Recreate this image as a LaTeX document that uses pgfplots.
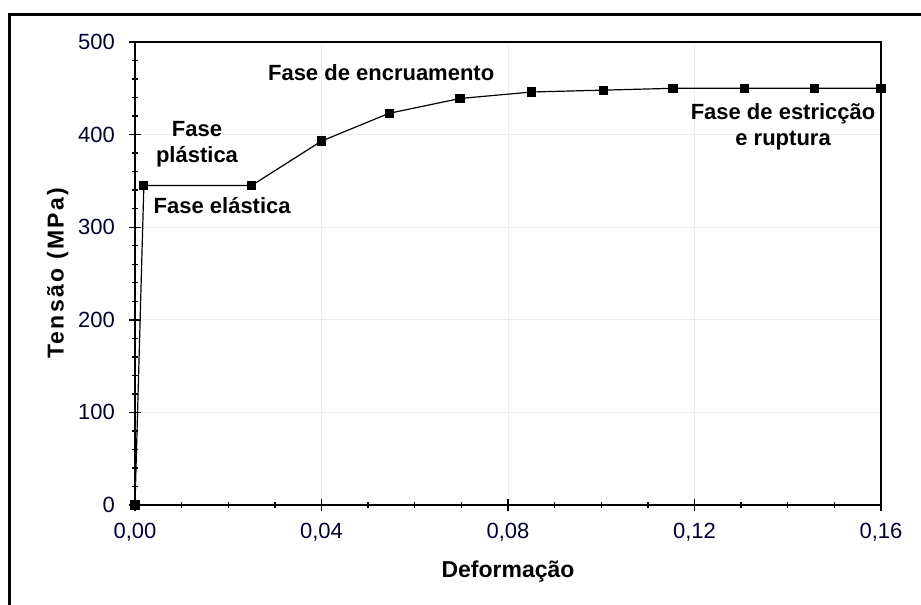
\documentclass[border=0pt]{standalone}
\usepackage{fontspec}
\setmainfont{Liberation Sans}
\usepackage{pgfplots}
\pgfplotsset{compat=1.18}
\begin{document}
\begin{tikzpicture}[x=1pt,y=1pt]
\begin{axis}[
  at={(0,0)}, anchor=south west,
  scale only axis,
  width=373pt, height=231.5pt,
  xmin=0, xmax=0.16, ymin=0, ymax=500,
  xtick={0,0.04,0.08,0.12,0.16},
  ytick={0,100,200,300,400,500},
  minor x tick num=3, minor y tick num=4,
  xtick pos=left, ytick pos=left,
  tick align=center,
  major tick length=6pt, minor tick length=3pt,
  every tick/.style={black, line width=0.7pt},
  axis line style={line width=0.8pt},
  grid=major,
  major grid style={gray!15, line width=0.5pt},
  /pgf/number format/assume math mode=true,
  x tick label style={/pgf/number format/.cd, fixed, fixed zerofill, precision=2, use comma, /tikz/.cd},
  y tick label style={/pgf/number format/.cd, fixed, precision=0, /tikz/.cd},
  scaled x ticks=false,
  tick label style={font=\fontsize{11pt}{13pt}\selectfont, text=black!80!blue},
  xticklabel style={yshift=-2.5pt},
  yticklabel style={xshift=-3.5pt},
  xlabel={\bfseries Deformação},
  ylabel={\bfseries\addfontfeature{LetterSpace=10}Tensão (MPa)},
  label style={font=\fontsize{11.5pt}{13pt}\selectfont},
  xlabel style={yshift=-3pt},
  ylabel style={yshift=-2pt},
  clip=false,
]
\addplot[black, line width=0.6pt, mark=square*, mark size=2pt, mark options={solid}] coordinates {
(0,0) (0.0019,345) (0.025,345) (0.040,393) (0.0545,423) (0.0697,439)
(0.0851,446) (0.1004,448) (0.1154,450) (0.1308,450) (0.1458,450) (0.160,450)
};
\node[font=\fontsize{11pt}{13pt}\selectfont\bfseries] at (axis cs:0.0528,466.5) {Fase de encruamento};
\node[font=\fontsize{11pt}{13pt}\selectfont\bfseries, align=center] at (axis cs:0.0133,390) {Fase\\plástica};
\node[font=\fontsize{11pt}{13pt}\selectfont\bfseries] at (axis cs:0.0187,323) {Fase elástica};
\node[font=\fontsize{11pt}{13pt}\selectfont\bfseries, align=center] at (axis cs:0.139,408) {Fase de estricção\\e ruptura};
\end{axis}
\draw[line width=1.5pt] (-62.5,-60) -- (-62.5,245) -- (400,245);
\pgfresetboundingbox
\path[use as bounding box] (-67.5,-50) rectangle (393,252.5);
\end{tikzpicture}
\end{document}
